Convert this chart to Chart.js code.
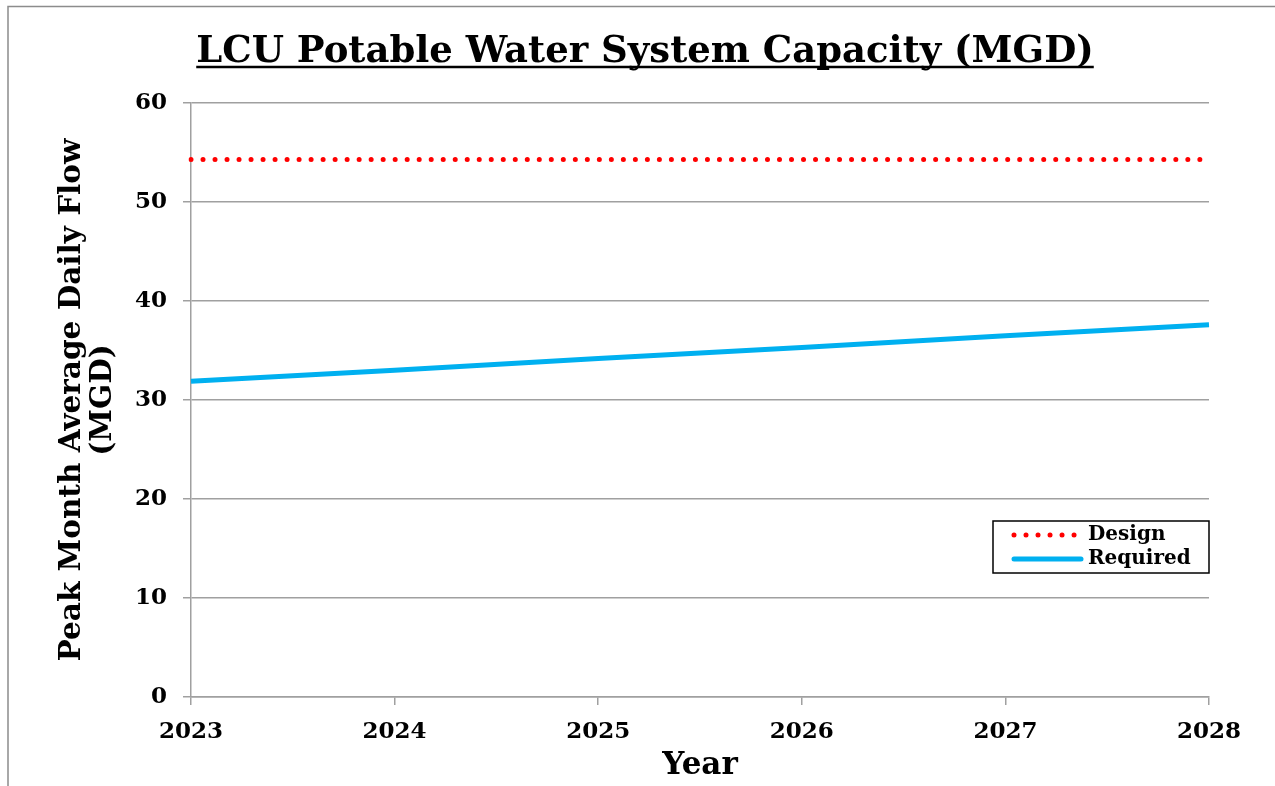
<!DOCTYPE html>
<html>
<head>
<meta charset="utf-8">
<script src="https://cdn.jsdelivr.net/npm/chart.js@4/dist/chart.umd.min.js"></script>
<style>
  html, body { margin: 0; padding: 0; background: #fff; }
  canvas { display: block; }
</style>
</head>
<body>
<canvas id="capacityChart" width="1275" height="786"></canvas>
<script>
// Datos
const years = ['2023', '2024', '2025', '2026', '2027', '2028'];
const designFlow = [54.3, 54.3, 54.3, 54.3, 54.3, 54.3];
const requiredFlow = [31.9, 33.0, 34.2, 35.3, 36.5, 37.6];
const seriesNames = ['Design', 'Required'];
const chartTitle = 'LCU Potable Water System Capacity (MGD)';

const serif = '"DejaVu Serif", Georgia, serif';
const gridGrey = '#a0a0a0';

// marco gris, titulo subrayado y leyenda con borde
const extrasPlugin = {
  id: 'extras',
  afterDraw(chart) {
    const ctx = chart.ctx;
    const area = chart.chartArea;
    ctx.save();

    // marco exterior
    ctx.strokeStyle = '#8c8c8c';
    ctx.lineWidth = 1.5;
    ctx.beginPath();
    ctx.moveTo(8, 786);
    ctx.lineTo(8, 6.5);
    ctx.lineTo(1275, 6.5);
    ctx.stroke();

    // titulo + subrayado
    ctx.font = 'bold 37px ' + serif;
    ctx.fillStyle = '#000';
    ctx.textAlign = 'center';
    ctx.textBaseline = 'alphabetic';
    const cx = 645;
    ctx.fillText(chartTitle, cx, 62);
    const tw = ctx.measureText(chartTitle).width;
    ctx.strokeStyle = '#000';
    ctx.lineWidth = 2.5;
    ctx.beginPath();
    ctx.moveTo(cx - tw / 2, 67);
    ctx.lineTo(cx + tw / 2, 67);
    ctx.stroke();

    // leyenda dentro del area
    const bx = area.right - 216, by = area.top + 418, bw = 216, bh = 52;
    ctx.fillStyle = '#fff';
    ctx.fillRect(bx, by, bw, bh);
    ctx.strokeStyle = '#000';
    ctx.lineWidth = 1.5;
    ctx.strokeRect(bx, by, bw, bh);

    chart.data.datasets.forEach((ds, i) => {
      const ly = by + 14 + i * 24;
      ctx.strokeStyle = ds.borderColor;
      ctx.lineWidth = ds.borderWidth;
      ctx.lineCap = 'round';
      ctx.setLineDash(ds.borderDash || []);
      ctx.beginPath();
      ctx.moveTo(bx + 21, ly);
      ctx.lineTo(bx + 88, ly);
      ctx.stroke();
      ctx.setLineDash([]);
      ctx.fillStyle = '#000';
      ctx.font = 'bold 20px ' + serif;
      ctx.textBaseline = 'middle';
      ctx.textAlign = 'left';
      ctx.fillText(ds.label, bx + 95, ly);
    });
    ctx.restore();
  }
};

const capacityCtx = document.getElementById('capacityChart').getContext('2d');

const capacityChart = new Chart(capacityCtx, {
  type: 'line',
  plugins: [extrasPlugin],
  data: {
    labels: years,
    datasets: [
      {
        label: seriesNames[0],
        data: designFlow,
        borderColor: '#ff0000',
        borderWidth: 5,
        borderDash: [0.01, 12],
        borderCapStyle: 'round',
        pointRadius: 0,
        fill: false,
      },
      {
        label: seriesNames[1],
        data: requiredFlow,
        borderColor: '#00b0f0',
        borderWidth: 5,
        pointRadius: 0,
        fill: false,
      },
    ],
  },
  options: {
    responsive: false,
    animation: false,
    layout: {
      padding: { left: 40, right: 66, top: 103, bottom: 0 },
    },
    plugins: {
      legend: { display: false },
      tooltip: { enabled: false },
      title: { display: false },
    },
    scales: {
      x: {
        type: 'category',
        offset: false,
        afterFit: (s) => { s.height = 89; },
        grid: {
          drawOnChartArea: false,
          drawTicks: true,
          tickLength: 8,
          color: gridGrey,
          lineWidth: 1.5,
        },
        border: { color: gridGrey, width: 1.5 },
        ticks: {
          color: '#000',
          padding: 13,
          maxRotation: 0,
          font: { family: serif, size: 23, weight: 'bold' },
        },
        title: {
          display: true,
          text: 'Year',
          color: '#000',
          font: { family: serif, size: 31, weight: 'bold' },
          padding: { top: 0, bottom: 1 },
        },
      },
      y: {
        min: 0,
        max: 60,
        afterFit: (s) => { s.width = 151; },
        grid: {
          drawTicks: true,
          tickLength: 8,
          color: gridGrey,
          lineWidth: 1.5,
        },
        border: { color: gridGrey, width: 1.5 },
        ticks: {
          stepSize: 10,
          color: '#000',
          padding: 16,
          font: { family: serif, size: 23, weight: 'bold' },
        },
        title: {
          display: true,
          text: ['Peak Month Average Daily Flow', '(MGD)'],
          color: '#000',
          font: { family: serif, size: 29.5, weight: 'bold', lineHeight: 1.05 },
          padding: { top: 17, bottom: 0 },
        },
      },
    },
  },
});
</script>
</body>
</html>
